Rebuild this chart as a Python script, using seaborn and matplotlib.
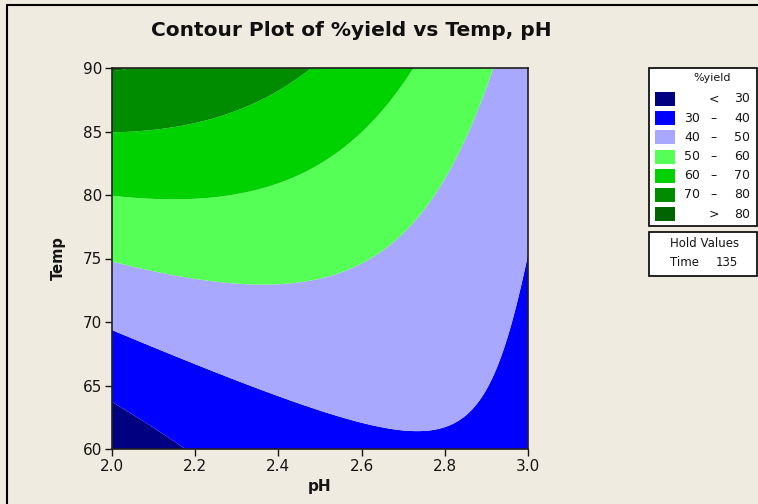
import numpy as np
import matplotlib
matplotlib.use("Agg")
import matplotlib.pyplot as plt
import seaborn as sns
from matplotlib.patches import Rectangle
from matplotlib.lines import Line2D

# ---- values: points on each contour boundary (pH, Temp) ----
ph_30 = [2.0, 2.17]
temp_30 = [63.6, 60.0]
ph_40 = [2.0, 2.2, 2.4, 2.6, 2.73, 2.85, 2.89, 2.93, 2.97, 3.0]
temp_40 = [69.3, 66.9, 64.3, 62.0, 61.4, 62.3, 64.4, 67.3, 71.6, 74.5]
ph_50 = [2.0, 2.09, 2.2, 2.28, 2.36, 2.44, 2.53, 2.61, 2.69, 2.75, 2.80, 2.83, 2.85, 2.885, 2.913]
temp_50 = [74.75, 74.1, 73.4, 73.1, 73.0, 73.1, 73.8, 74.75, 76.9, 78.8, 80.6, 82.5, 84.6, 87.5, 90.0]
ph_60 = [2.0, 2.17, 2.29, 2.4, 2.53, 2.64, 2.69, 2.72]
temp_60 = [79.9, 79.9, 80.3, 81.05, 83.0, 85.9, 88.3, 90.0]
ph_70 = [2.0, 2.24, 2.36, 2.41, 2.46]
temp_70 = [85.1, 85.5, 86.95, 88.4, 90.0]

contour_levels = [30, 40, 50, 60, 70, 80]
level_colors = ["#000080", "#0000FF", "#A8A8FF", "#55FF55", "#00D200", "#008C00", "#006400"]
x_ticks = [2.0, 2.2, 2.4, 2.6, 2.8, 3.0]
y_ticks = [60, 65, 70, 75, 80, 85, 90]
hold_name = "Time"
hold_value = "135"

# ---- fit the quadratic response surface through the read boundary points ----
pts = []
for lv, P, T in [(30, ph_30, temp_30), (40, ph_40, temp_40), (50, ph_50, temp_50),
                 (60, ph_60, temp_60), (70, ph_70, temp_70)]:
    for p, t in zip(P, T):
        pts.append((p, t, lv))
pts = np.array(pts)


def design(p, t):
    u = (np.asarray(p) - 2.5) / 0.5
    v = (np.asarray(t) - 75.0) / 15.0
    return np.stack([np.ones_like(u), u, v, u * u, v * v, u * v], axis=-1)


coef, *_ = np.linalg.lstsq(design(pts[:, 0], pts[:, 1]), pts[:, 2], rcond=None)

gp = np.linspace(2.0, 3.0, 401)
gt = np.linspace(60, 90, 401)
PP, TT = np.meshgrid(gp, gt)
ZZ = design(PP, TT) @ coef

# ---- figure ----
sns.set_theme(style="ticks")
plt.rcParams["font.family"] = ["DejaVu Sans"]
W, H = 758, 504
bg = "#EFEBE0"
txt = "#151515"
fig = plt.figure(figsize=(W / 100, H / 100), dpi=100, facecolor=bg)


def fx(px):
    return px / W


def fy(py):
    return 1 - py / H


ax = fig.add_axes([fx(112), fy(449), fx(528) - fx(112), fy(68) - fy(449)])
bounds = [-1e9] + contour_levels + [1e9]
ax.contourf(PP, TT, ZZ, levels=bounds, colors=level_colors, antialiased=True)
ax.set_xlim(2.0, 3.0)
ax.set_ylim(60, 90)
ax.set_xticks(x_ticks)
ax.set_xticklabels([f"{v:.1f}" for v in x_ticks])
ax.set_yticks(y_ticks)
ax.set_yticklabels([str(v) for v in y_ticks])
ax.tick_params(axis="both", direction="out", length=5, width=1, labelsize=11,
               colors=txt, pad=2)
for s in ax.spines.values():
    s.set_color("#202020")
    s.set_linewidth(1.2)
ax.set_xlabel("pH", fontsize=11, fontweight="bold", labelpad=4, color=txt)
ax.set_ylabel("Temp", fontsize=10.5, fontweight="bold", labelpad=12, color=txt)

# title
fig.text(fx(351), fy(31), "Contour Plot of %yield vs Temp, pH", ha="center", va="center",
         fontsize=14.5, fontweight="bold", color="#101010")

# figure border (left and top)
fig.add_artist(Line2D([fx(7), fx(7)], [0, fy(5)], transform=fig.transFigure, color="black", lw=1.5))
fig.add_artist(Line2D([fx(7), 1], [fy(5), fy(5)], transform=fig.transFigure, color="black", lw=1.5))

# legend box
fig.add_artist(Rectangle((fx(649), fy(226)), fx(757) - fx(649), fy(68) - fy(226),
                         transform=fig.transFigure, facecolor="white", edgecolor="black", lw=1.2))
fig.text(fx(712), fy(78), "%yield", ha="center", va="center", fontsize=8, color=txt)
row_y = [99, 118.2, 137.4, 156.6, 175.8, 195, 214.2]
labels = []
labels.append(("", "<", str(contour_levels[0])))
for lo, hi in zip(contour_levels[:-1], contour_levels[1:]):
    labels.append((str(lo), "–", str(hi)))
labels.append(("", ">", str(contour_levels[-1])))
for y, c, (lo, sym, hi) in zip(row_y, level_colors, labels):
    fig.add_artist(Rectangle((fx(655), fy(y + 7)), fx(675) - fx(655), fy(y - 7) - fy(y + 7),
                             transform=fig.transFigure, facecolor=c, edgecolor="none"))
    fig.text(fx(692), fy(y), lo, ha="center", va="center", fontsize=9, color=txt)
    fig.text(fx(714), fy(y), sym, ha="center", va="center", fontsize=9, color=txt)
    fig.text(fx(742), fy(y), hi, ha="center", va="center", fontsize=9, color=txt)

# hold values box
fig.add_artist(Rectangle((fx(649), fy(276)), fx(757) - fx(649), fy(232) - fy(276),
                         transform=fig.transFigure, facecolor="white", edgecolor="black", lw=1.2))
fig.text(fx(705), fy(243), "Hold Values", ha="center", va="center", fontsize=8.5, color=txt)
fig.text(fx(685), fy(263), hold_name, ha="center", va="center", fontsize=8.5, color=txt)
fig.text(fx(727), fy(263), hold_value, ha="center", va="center", fontsize=8.5, color=txt)

fig.savefig("out.png", dpi=100, facecolor=bg)
